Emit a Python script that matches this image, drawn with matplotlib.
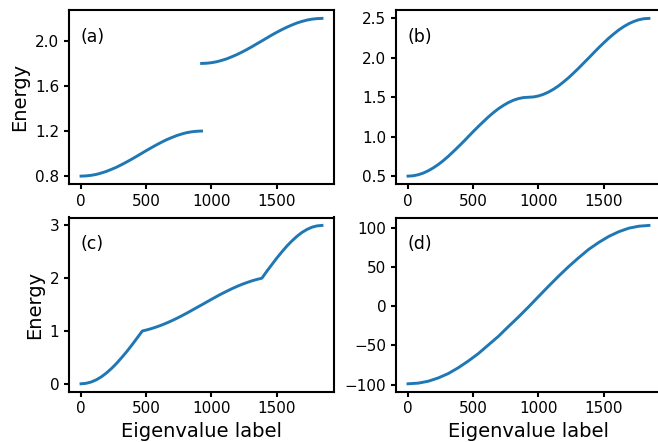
import matplotlib
matplotlib.use("Agg")
import matplotlib.pyplot as plt

# eigenvalue labels / energies, per panel and band
# (a) two separated bands
a_low_x = [0, 38, 77, 116, 154, 192, 231, 270, 308, 346, 385, 424, 462,
           500, 539, 578, 616, 654, 693, 732, 770, 808, 847, 886, 924]
a_low_y = [0.800, 0.802, 0.807, 0.815, 0.827, 0.841, 0.859, 0.878, 0.900, 0.923, 0.948, 0.974, 1.000,
           1.026, 1.052, 1.077, 1.100, 1.122, 1.141, 1.159, 1.173, 1.185, 1.193, 1.198, 1.200]
a_up_x = [925, 963, 1002, 1040, 1079, 1117, 1156, 1194, 1233, 1271, 1310, 1348, 1387,
          1425, 1463, 1502, 1540, 1579, 1617, 1656, 1694, 1733, 1771, 1810, 1848]
a_up_y = [1.800, 1.802, 1.807, 1.815, 1.827, 1.841, 1.859, 1.878, 1.900, 1.923, 1.948, 1.974, 2.000,
          2.026, 2.052, 2.077, 2.100, 2.122, 2.141, 2.159, 2.173, 2.185, 2.193, 2.198, 2.200]

# (b) two touching bands
b_x = [0, 38, 77, 116, 154, 192, 231, 270, 308, 346, 385, 424, 462,
       500, 539, 578, 616, 654, 693, 732, 770, 808, 847, 886, 924,
       963, 1002, 1040, 1079, 1117, 1156, 1194, 1233, 1271, 1310, 1348, 1387,
       1425, 1463, 1502, 1540, 1579, 1617, 1656, 1694, 1733, 1771, 1810, 1848]
b_y = [0.500, 0.504, 0.517, 0.538, 0.567, 0.603, 0.646, 0.696, 0.750, 0.809, 0.871, 0.935, 1.000,
       1.065, 1.129, 1.191, 1.250, 1.304, 1.354, 1.397, 1.433, 1.462, 1.483, 1.496, 1.500,
       1.504, 1.517, 1.538, 1.567, 1.603, 1.646, 1.696, 1.750, 1.809, 1.871, 1.935, 2.000,
       2.065, 2.129, 2.191, 2.250, 2.304, 2.354, 2.397, 2.433, 2.462, 2.483, 2.496, 2.500]

# (c) three pieces with kinks at E=1 and E=2
c_x = [0, 39, 78, 118, 157, 196, 235, 274, 313, 353, 392, 431, 470,
       508, 546, 585, 623, 661, 699, 738, 776, 814, 852, 890, 929,
       967, 1005, 1043, 1081, 1120, 1158, 1196, 1234, 1273, 1311, 1349, 1387,
       1425, 1464, 1502, 1541, 1579, 1618, 1656, 1694, 1733, 1771, 1810, 1848]
c_y = [0.000, 0.009, 0.034, 0.076, 0.134, 0.207, 0.293, 0.391, 0.500, 0.617, 0.741, 0.870, 1.000,
       1.023, 1.050, 1.082, 1.117, 1.156, 1.198, 1.244, 1.292, 1.342, 1.394, 1.447, 1.500,
       1.553, 1.606, 1.658, 1.708, 1.756, 1.802, 1.844, 1.883, 1.918, 1.950, 1.977, 2.000,
       2.131, 2.259, 2.383, 2.500, 2.609, 2.707, 2.793, 2.866, 2.924, 2.966, 2.991, 3.000]

# (d) single wide band
d_x = [0, 77, 154, 231, 308, 385, 462, 539, 616, 693, 770, 847, 924,
       1001, 1078, 1155, 1232, 1309, 1386, 1463, 1540, 1617, 1694, 1771, 1848]
d_y = [-99, -98.2, -95.8, -91.6, -86, -78.6, -70, -60.5, -49.5, -38.5, -26, -13.8, -1,
       12.3, 25.5, 38.3, 50.5, 61.8, 72.5, 81.3, 89, 95, 99.5, 102, 103]

panel_names = ["(a)", "(b)", "(c)", "(d)"]
xticks = [0, 500, 1000, 1500]
yticks = {
    "(a)": [0.8, 1.2, 1.6, 2.0],
    "(b)": [0.5, 1.0, 1.5, 2.0, 2.5],
    "(c)": [0, 1, 2, 3],
    "(d)": [-100, -50, 0, 50, 100],
}

plt.rcParams["axes.linewidth"] = 1.5
plt.rcParams["xtick.major.width"] = 1.5
plt.rcParams["ytick.major.width"] = 1.5
plt.rcParams["xtick.labelsize"] = 11
plt.rcParams["ytick.labelsize"] = 11

W, H = 658, 442
fig = plt.figure(figsize=(W / 100, H / 100), dpi=100)

# axes boxes in pixels (left, top, right, bottom); right column runs past the edge
boxes = {
    "(a)": (69, 10.5, 334, 184),
    "(b)": (396, 10.5, 661, 184),
    "(c)": (69, 217.5, 334, 391.7),
    "(d)": (396, 217.5, 661, 391.7),
}
color = "#1f77b4"
lw = 2.1

axes = {}
for name in panel_names:
    l, t, r, b = boxes[name]
    ax = fig.add_axes([l / W, (H - b) / H, (r - l) / W, (b - t) / H])
    axes[name] = ax

axes["(a)"].plot(a_low_x, a_low_y, color=color, lw=lw)
axes["(a)"].plot(a_up_x, a_up_y, color=color, lw=lw)
axes["(b)"].plot(b_x, b_y, color=color, lw=lw)
axes["(c)"].plot(c_x, c_y, color=color, lw=lw)
axes["(d)"].plot(d_x, d_y, color=color, lw=lw)

for name in panel_names:
    ax = axes[name]
    ax.set_xticks(xticks)
    ax.set_yticks(yticks[name])
    ax.text(0.045, 0.85, name, transform=ax.transAxes, fontsize=12.5,
            ha="left", va="center")

axes["(a)"].set_yticklabels(["0.8", "1.2", "1.6", "2.0"])
axes["(a)"].set_ylabel("Energy", fontsize=14)
axes["(c)"].set_ylabel("Energy", fontsize=14)
axes["(c)"].set_xlabel("Eigenvalue label", fontsize=14)
axes["(d)"].set_xlabel("Eigenvalue label", fontsize=14)

fig.savefig("out.png", dpi=100)
